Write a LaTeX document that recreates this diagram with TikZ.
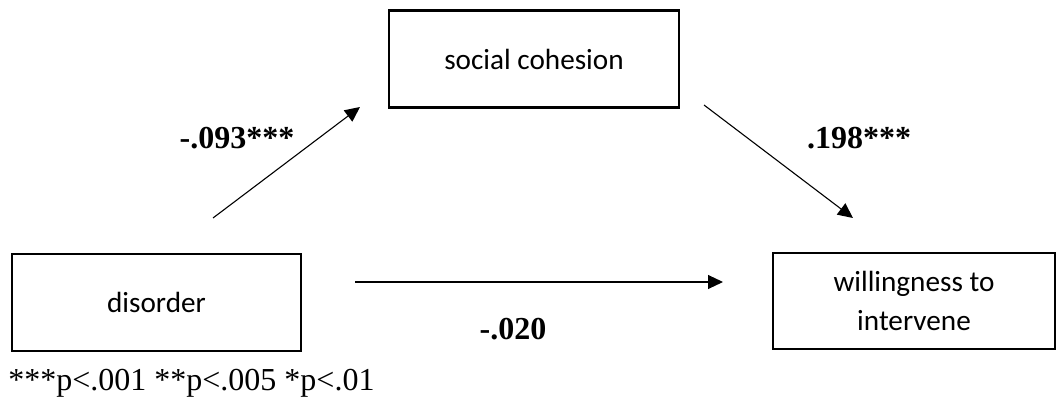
\documentclass[tikz,border=0pt]{standalone}
\usepackage{fontspec}
\setmainfont{Liberation Serif}
\newfontfamily\boxfont{Carlito}
\usetikzlibrary{arrows.meta}
\tikzset{
    %Define standard arrow tip
    >={Triangle[length=7.5pt,width=7pt]},
    %Define style for boxes
    varbox/.style={
           rectangle,
           draw=black, line width=1.1pt,
           minimum width=145pt,
           minimum height=48.5pt,
           align=center,
           font=\boxfont\fontsize{14.6}{19.5}\selectfont,
           text centered},
    coef/.style={
           font=\bfseries\fontsize{16}{18}\selectfont},
    % Define arrow style
    pil/.style={
           ->,
           line width=0.55pt}
}
\begin{document}
\begin{tikzpicture}[x=0.5pt,y=-0.5pt]
\useasboundingbox (0,0) rectangle (1056,401);

 %nodes
\node[varbox](social) at (534,59){social cohesion};
\node[varbox, minimum width=144.5pt](disorder) at (156.5,302.5){disorder};
\node[varbox, minimum width=141pt, minimum height=48pt](willing) at (914,301){willingness to\\intervene};

 %arrow ends
\coordinate (ds) at (213,218);
\coordinate (se) at (360,107);
\coordinate (ss) at (704,105);
\coordinate (we) at (853,218);
\coordinate (dw) at (355,282);
\coordinate (wd) at (723,282);

 %paths
\draw[pil] (ds) -- (se);
\draw[pil] (ss) -- (we);
\draw[pil] (dw) -- (wd);

 %coefficients
\node[coef](b1) at (237,138){-.093***};
\node[coef](b2) at (859,138){.198***};
\node[coef](b3) at (513,329){-.020};

\node[anchor=west, inner sep=0pt, font=\fontsize{16}{18}\selectfont](note) at (8,383){***p<.001 **p<.005 *p<.01};
\end{tikzpicture}
\end{document}
